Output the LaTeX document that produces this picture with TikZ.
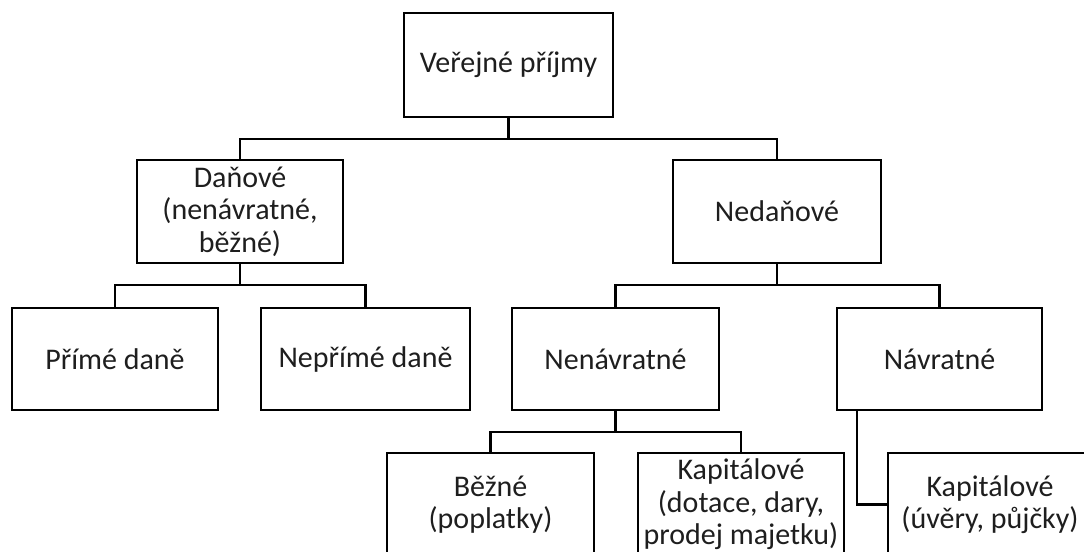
\documentclass[tikz,border=0pt]{standalone}
\usepackage{fontspec}
\setmainfont{Carlito}
\definecolor{txt}{RGB}{30,30,30}
\begin{document}
\begin{tikzpicture}[x=0.75pt,y=-0.75pt,
  box/.style={draw=black,line width=1.6pt,rectangle,align=center,inner sep=0pt,
    text=txt,font=\fontsize{22.5}{24.4}\selectfont,
    minimum height=77.5pt},
  conn/.style={draw=black,line width=1.6pt}]
\useasboundingbox (0,0) rectangle (1084,552);
\clip (0,0) rectangle (1084,552);
\node[box,minimum width=156.5pt] (top) at (508.5,65) {Veřejné příjmy};
\node[box,minimum width=154.5pt] (dan) at (240,211.5) {Daňové\\(nenávratné,\\běžné)};
\node[box,minimum width=156pt] (ned) at (777,211.5) {Nedaňové};
\node[box,minimum width=154.5pt,minimum height=76.5pt] (prime) at (115,359) {Přímé daně};
\node[box,minimum width=156.5pt,minimum height=76.5pt] (neprime) at (365.5,359) {Nepřímé daně};
\node[box,minimum width=155pt,minimum height=76.5pt] (nenavr) at (615.5,359) {Nenávratné};
\node[box,minimum width=153.5pt,minimum height=76.5pt] (navr) at (939.5,359) {Návratné};
\node[box,minimum width=155pt] (bezne) at (490.5,504.5) {Běžné\\(poplatky)};
\node[box,minimum width=154.5pt] (kapd) at (741,504.5) {Kapitálové\\(dotace, dary,\\prodej majetku)};
\node[box,minimum width=153pt] (kapu) at (990,504.5) {Kapitálové\\(úvěry, půjčky)};
% level 1
\coordinate (b1) at (508.5,139);
\draw[conn] (top.south) -- (b1);
\draw[conn] (dan.north) |- (b1) -| (ned.north);
% level 2 left
\coordinate (b2) at (240,285);
\draw[conn] (dan.south) -- (b2);
\draw[conn] (prime.north) |- (b2) -| (neprime.north);
% level 2 right
\coordinate (b3) at (777,285);
\draw[conn] (ned.south) -- (b3);
\draw[conn] (nenavr.north) |- (b3) -| (navr.north);
% level 3
\coordinate (b4) at (615.5,432);
\draw[conn] (nenavr.south) -- (b4);
\draw[conn] (bezne.north) |- (b4) -| (kapd.north);
% navratne to kapitalove
\coordinate (n1) at (857,410);
\draw[conn] (n1) |- (kapu.west);
\end{tikzpicture}
\end{document}
